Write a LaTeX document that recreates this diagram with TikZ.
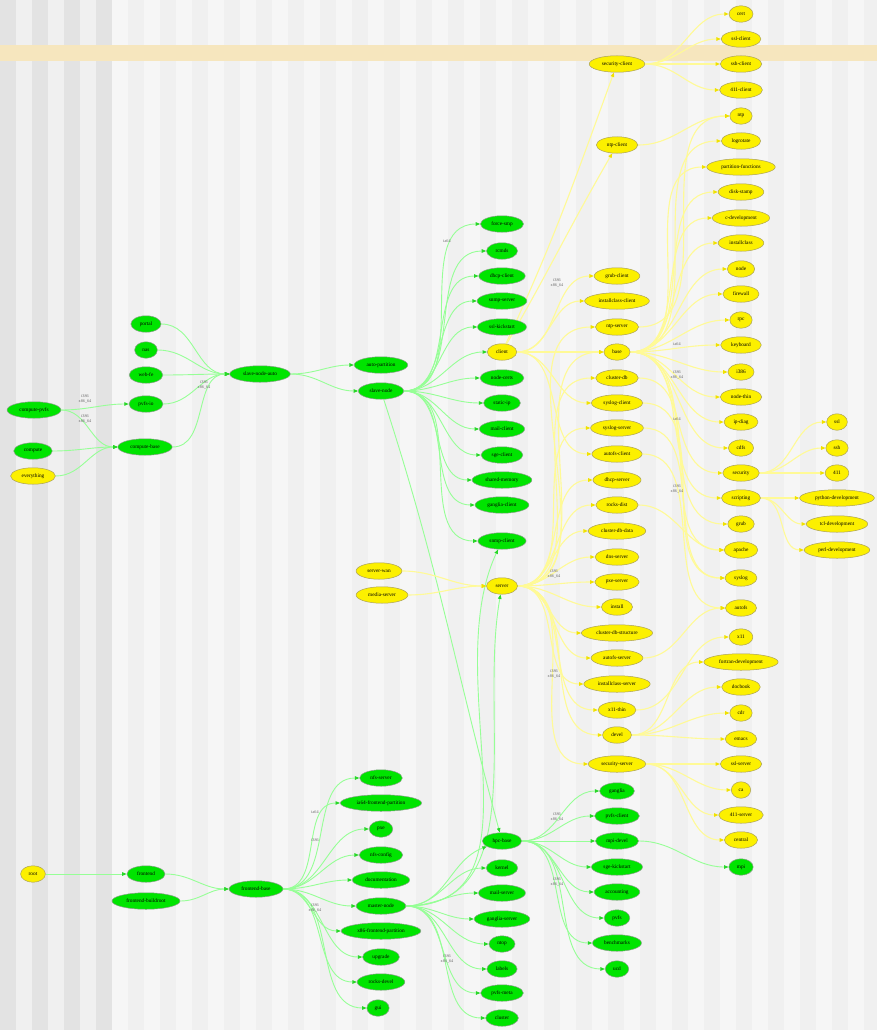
\documentclass[tikz,border=0pt]{standalone}
\usepackage{fontspec}
\setmainfont{Liberation Serif}
\usetikzlibrary{shapes.geometric,arrows.meta}
\definecolor{ngreen}{RGB}{0,228,0}
\definecolor{nyellow}{RGB}{252,240,0}
\definecolor{gborder}{RGB}{140,160,140}
\definecolor{yborder}{RGB}{170,160,90}
\definecolor{egreen}{RGB}{150,255,150}
\definecolor{agreen}{RGB}{40,215,40}
\definecolor{eyellow}{RGB}{255,250,150}
\definecolor{ayellow}{RGB}{240,225,0}
\definecolor{bgLd}{RGB}{227,227,227}
\definecolor{bgLl}{RGB}{240,240,240}
\definecolor{bgRd}{RGB}{240,240,240}
\definecolor{bgRl}{RGB}{246,246,246}
\definecolor{band}{RGB}{246,230,190}
\pgfdeclarelayer{bg}
\pgfdeclarelayer{edges}
\pgfsetlayers{bg,edges,main}
\tikzset{
  nd/.style={ellipse,line width=0.5pt,minimum height=16.5pt,inner xsep=4.5pt,inner ysep=1.5pt,font=\fontsize{5.3}{6}\selectfont},
  gn/.style={nd,fill=ngreen,draw=gborder},
  yn/.style={nd,fill=nyellow,draw=yborder},
  ge/.style={draw=egreen,line width=0.9pt,-{Triangle[length=4.5pt,width=3.5pt,color=agreen]}},
  ye/.style={draw=eyellow,line width=1.1pt,-{Triangle[length=4.5pt,width=3.5pt,color=ayellow]}},
  lb/.style={font=\fontsize{4.2}{4.8}\selectfont,text=black!60,align=center,inner sep=0pt}
}
\begin{document}
\begin{tikzpicture}[x=1pt,y=-1pt]
\useasboundingbox (0,0) rectangle (877,1030);
\begin{pgfonlayer}{bg}
\foreach \i in {0,...,54}{%
  \ifnum\i<7 \ifodd\i \def\cc{bgLl}\else\def\cc{bgLd}\fi
  \else \ifodd\i \def\cc{bgRl}\else\def\cc{bgRd}\fi\fi
  \fill[\cc] (\i*16,0) rectangle ({\i*16+16},1030);
}
\fill[band] (0,45) rectangle (877,61);
\end{pgfonlayer}

% ---------- left ----------
\node[gn] (cpvfs) at (34,410) {compute-pvfs};
\node[gn] (compute) at (33,451) {compute};
\node[yn] (everything) at (33,476) {everything};
\node[gn] (portal) at (146,324) {portal};
\node[gn] (nas) at (146,350) {nas};
\node[gn] (webfe) at (146,375) {web-fe};
\node[gn] (pvfsio) at (146,404) {pvfs-io};
\node[gn] (cbase) at (145,447) {compute-base};
\node[gn] (sna) at (260,374) {slave-node-auto};
\node[gn] (autopart) at (381,365) {auto-partition};
\node[gn] (slave) at (381,391) {slave-node};

% ---------- green column 502 (top) ----------
\node[gn] (forcesmp) at (502,224) {force-smp};
\node[gn] (rcmds) at (502,251) {rcmds};
\node[gn] (dhcpc) at (502,276) {dhcp-client};
\node[gn] (snmps) at (502,301) {snmp-server};
\node[gn] (sslks) at (502,327) {ssl-kickstart};
\node[yn] (client) at (502,352) {client};
\node[gn] (nodecerts) at (502,378) {node-certs};
\node[gn] (staticip) at (502,403) {static-ip};
\node[gn] (mailc) at (502,429) {mail-client};
\node[gn] (sgec) at (502,455) {sge-client};
\node[gn] (shmem) at (502,480) {shared-memory};
\node[gn] (gangc) at (502,505) {ganglia-client};
\node[gn] (snmpc) at (502,541) {snmp-client};

% ---------- bottom left ----------
\node[yn] (root) at (33,874) {root};
\node[gn] (frontend) at (146,874) {frontend};
\node[gn] (fbr) at (146,901) {frontend-buildroot};
\node[gn] (fbase) at (256,889) {frontend-base};

\node[gn] (nfss) at (381,778) {nfs-server};
\node[gn] (iafp) at (381,803) {ia64-frontend-partition};
\node[gn] (pxe) at (381,829) {pxe};
\node[gn] (nfsconf) at (381,855) {nfs-config};
\node[gn] (docs) at (381,880) {documentation};
\node[gn] (master) at (381,906) {master-node};
\node[gn] (xfp) at (381,931) {x86-frontend-partition};
\node[gn] (upgrade) at (381,957) {upgrade};
\node[gn] (rdevel) at (381,982) {rocks-devel};
\node[gn] (gui) at (378,1008) {gui};

\node[gn] (hpcb) at (502,841) {hpc-base};
\node[gn] (kernel) at (502,868) {kernel};
\node[gn] (mails) at (502,893) {mail-server};
\node[gn] (gangs) at (502,919) {ganglia-server};
\node[gn] (ntop) at (502,944) {ntop};
\node[gn] (labels) at (502,969) {labels};
\node[gn] (pvfsmeta) at (502,993) {pvfs-meta};
\node[gn] (cluster) at (502,1018) {cluster};

\node[gn] (ganglia) at (617,791) {ganglia};
\node[gn] (pvfsc) at (617,816) {pvfs-client};
\node[gn] (mpidev) at (617,841) {mpi-devel};
\node[gn] (sgeks) at (617,867) {sge-kickstart};
\node[gn] (accounting) at (617,892) {accounting};
\node[gn] (pvfs) at (617,918) {pvfs};
\node[gn] (bench) at (617,943) {benchmarks};
\node[gn] (ucd) at (617,969) {ucd};
\node[gn] (mpi) at (741,867) {mpi};

% ---------- yellow ----------
\node[yn] (serverwan) at (379,571) {server-wan};
\node[yn] (mediaserver) at (382,595) {media-server};
\node[yn] (server) at (502,586) {server};

\node[yn] (seccl) at (617,64) {security-client};
\node[yn] (ntpc) at (617,145) {ntp-client};
\node[yn] (grubc) at (617,276) {grub-client};
\node[yn] (icc) at (617,301) {installclass-client};
\node[yn] (ntps) at (617,327) {ntp-server};
\node[yn] (base) at (617,352) {base};
\node[yn] (clusterdb) at (617,378) {cluster-db};
\node[yn] (syslogc) at (617,403) {syslog-client};
\node[yn] (syslogs) at (617,428) {syslog-server};
\node[yn] (autofsc) at (617,454) {autofs-client};
\node[yn] (dhcps) at (617,480) {dhcp-server};
\node[yn] (rocksdist) at (617,505) {rocks-dist};
\node[yn] (cdbdata) at (617,531) {cluster-db-data};
\node[yn] (dnss) at (617,557) {dns-server};
\node[yn] (pxes) at (617,582) {pxe-server};
\node[yn] (install) at (617,607) {install};
\node[yn] (cdbstruct) at (617,633) {cluster-db-structure};
\node[yn] (autofss) at (617,658) {autofs-server};
\node[yn] (ics) at (617,684) {installclass-server};
\node[yn] (x11thin) at (617,710) {x11-thin};
\node[yn] (devel) at (617,735) {devel};
\node[yn] (secs) at (617,764) {security-server};

\node[yn] (cert) at (741,14) {cert};
\node[yn] (sslc) at (741,39) {ssl-client};
\node[yn] (sshc) at (741,64) {ssh-client};
\node[yn] (c411) at (741,90) {411-client};
\node[yn] (ntp) at (741,116) {ntp};
\node[yn] (logrotate) at (741,141) {logrotate};
\node[yn] (partfunc) at (741,167) {partition-functions};
\node[yn] (diskstamp) at (741,192) {disk-stamp};
\node[yn] (cdev) at (741,218) {c-development};
\node[yn] (installclass) at (741,243) {installclass};
\node[yn] (node) at (741,269) {node};
\node[yn] (firewall) at (741,294) {firewall};
\node[yn] (rpc) at (741,320) {rpc};
\node[yn] (keyboard) at (741,345) {keyboard};
\node[yn] (ni386) at (741,372) {i386};
\node[yn] (nodethin) at (741,397) {node-thin};
\node[yn] (ipdiag) at (741,422) {ip-diag};
\node[yn] (cdfs) at (741,448) {cdfs};
\node[yn] (security) at (741,473) {security};
\node[yn] (scripting) at (741,498) {scripting};
\node[yn] (grub) at (741,524) {grub};
\node[yn] (apache) at (741,550) {apache};
\node[yn] (syslog) at (741,578) {syslog};
\node[yn] (autofs) at (741,608) {autofs};
\node[yn] (x11) at (741,637) {x11};
\node[yn] (fortdev) at (741,662) {fortran-development};
\node[yn] (docbook) at (741,687) {docbook};
\node[yn] (cdr) at (741,713) {cdr};
\node[yn] (emacs) at (741,739) {emacs};
\node[yn] (ssls) at (741,764) {ssl-server};
\node[yn] (ca) at (741,790) {ca};
\node[yn] (s411) at (741,815) {411-server};
\node[yn] (central) at (741,840) {central};

\node[yn] (ssl) at (837,422) {ssl};
\node[yn] (ssh) at (837,448) {ssh};
\node[yn] (n411) at (837,473) {411};
\node[yn] (pydev) at (837,498) {python-development};
\node[yn] (tcldev) at (837,524) {tcl-development};
\node[yn] (perldev) at (837,550) {perl-development};

% ---------- edge labels ----------
\node[lb] (l1) at (85,399) {i386\\x86\_64};
\node[lb] (l2) at (85,419) {i386\\x86\_64};
\node[lb] (l3) at (204,385) {i386\\x86\_64};
\node[lb] (l4) at (447,241) {ia64};
\node[lb] (l5) at (557,283) {i386\\x86\_64};
\node[lb] (l6) at (677,344) {ia64};
\node[lb] (l7) at (677,375) {i386\\x86\_64};
\node[lb] (l8) at (677,419) {ia64};
\node[lb] (l9) at (677,489) {i386\\x86\_64};
\node[lb] (l10) at (554,574) {i386\\x86\_64};
\node[lb] (l11) at (554,674) {i386\\x86\_64};
\node[lb] (l12) at (315,812) {ia64};
\node[lb] (l13) at (315,840) {i386};
\node[lb] (l14) at (315,908) {i386\\x86\_64};
\node[lb] (l15) at (447,959) {i386\\x86\_64};
\node[lb] (l16) at (557,817) {i386\\x86\_64};
\node[lb] (l17) at (557,882) {i386\\x86\_64};

\begin{pgfonlayer}{edges}
% green
\foreach \t in {pvfsio,cbase} \draw[ge] (cpvfs.east) to[out=0,in=180] (\t.west);
\foreach \s in {compute,everything} \draw[ge] (\s.east) to[out=0,in=180] (cbase.west);
\foreach \s in {portal,nas,webfe,pvfsio,cbase} \draw[ge] (\s.east) to[out=0,in=180] (sna.west);
\foreach \t in {autopart,slave} \draw[ge] (sna.east) to[out=0,in=180] (\t.west);
\foreach \t in {forcesmp,rcmds,dhcpc,snmps,sslks,client,nodecerts,staticip,mailc,sgec,shmem,gangc,snmpc}
  \draw[ge] (slave.east) to[out=0,in=180] (\t.west);
\draw[ge] (slave) to[out=-72,in=105] (hpcb);
\draw[ge] (root.east) to[out=0,in=180] (frontend.west);
\foreach \s in {frontend,fbr} \draw[ge] (\s.east) to[out=0,in=180] (fbase.west);
\foreach \t in {nfss,iafp,pxe,nfsconf,docs,master,xfp,upgrade,rdevel,gui}
  \draw[ge] (fbase.east) to[out=0,in=180] (\t.west);
\draw[ge] (master.east) to[out=0,in=-115] (snmpc);
\draw[ge] (master.east) to[out=0,in=-100] (server);
\draw[ge] (master.east) to[out=0,in=-160] (hpcb);
\foreach \t in {kernel,mails,gangs,ntop,labels,pvfsmeta,cluster}
  \draw[ge] (master.east) to[out=0,in=180] (\t.west);
\foreach \t in {ganglia,pvfsc,mpidev,sgeks,accounting,pvfs,bench,ucd}
  \draw[ge] (hpcb.east) to[out=0,in=180] (\t.west);
\draw[ge] (mpidev.east) to[out=0,in=180] (mpi.west);
% yellow
\foreach \s in {serverwan,mediaserver} \draw[ye] (\s.east) to[out=0,in=180] (server.west);
\draw[ye] (client) to[out=65,in=-110] (seccl);
\draw[ye] (client) to[out=60,in=-120] (ntpc);
\foreach \t in {grubc,icc,base,syslogc,autofsc}
  \draw[ye] (client.east) to[out=0,in=180] (\t.west);
\foreach \t in {ntps,base,clusterdb,syslogs,dhcps,rocksdist,cdbdata,dnss,pxes,install,cdbstruct,autofss,ics,x11thin,devel,secs}
  \draw[ye] (server.east) to[out=0,in=180] (\t.west);
\foreach \t in {cert,sslc,sshc,c411} \draw[ye] (seccl.east) to[out=0,in=180] (\t.west);
\foreach \s in {ntpc,ntps} \draw[ye] (\s.east) to[out=0,in=180] (ntp.west);
\foreach \t in {logrotate,partfunc,diskstamp,cdev,installclass,node,firewall,rpc,keyboard,ni386,nodethin,ipdiag,cdfs,security,scripting,grub}
  \draw[ye] (base.east) to[out=0,in=180] (\t.west);
\foreach \s in {clusterdb,rocksdist} \draw[ye] (\s.east) to[out=0,in=180] (apache.west);
\foreach \s in {syslogc,syslogs} \draw[ye] (\s.east) to[out=0,in=180] (syslog.west);
\foreach \s in {autofsc,autofss} \draw[ye] (\s.east) to[out=0,in=180] (autofs.west);
\draw[ye] (x11thin.east) to[out=0,in=180] (x11.west);
\foreach \t in {fortdev,docbook,cdr,emacs} \draw[ye] (devel.east) to[out=0,in=180] (\t.west);
\foreach \t in {ssls,ca,s411,central} \draw[ye] (secs.east) to[out=0,in=180] (\t.west);
\foreach \t in {ssl,ssh,n411} \draw[ye] (security.east) to[out=0,in=180] (\t.west);
\foreach \t in {pydev,tcldev,perldev} \draw[ye] (scripting.east) to[out=0,in=180] (\t.west);
\end{pgfonlayer}
\end{tikzpicture}
\end{document}
